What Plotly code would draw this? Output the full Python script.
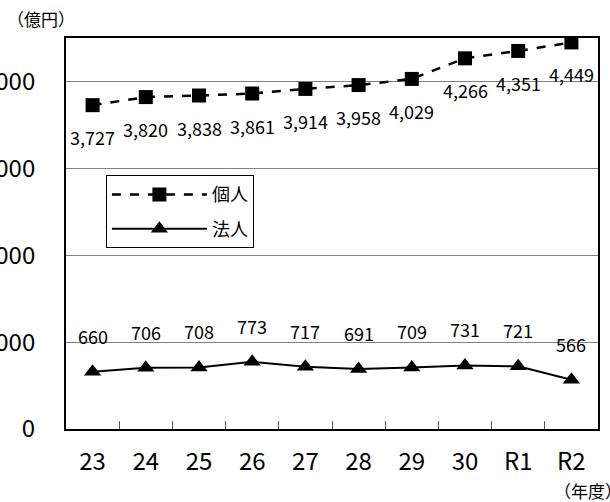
import plotly.graph_objects as go

years = ["23", "24", "25", "26", "27", "28", "29", "30", "R1", "R2"]
kojin = [3727, 3820, 3838, 3861, 3914, 3958, 4029, 4266, 4351, 4449]
hojin = [660, 706, 708, 773, 717, 691, 709, 731, 721, 566]
yticks = [0, 1000, 2000, 3000, 4000]

FONT = "Noto Sans CJK JP"

fig = go.Figure()
fig.add_trace(go.Scatter(
    x=years, y=kojin, name="個人", mode="lines+markers", legendgroup="a",
    line=dict(color="black", width=2.5, dash="dash"),
    marker=dict(symbol="square", size=14, color="black"),
))
fig.add_trace(go.Scatter(
    x=years, y=hojin, name="法人", mode="lines+markers", legendgroup="b",
    line=dict(color="black", width=2),
    marker=dict(symbol="triangle-up", size=15, color="black"),
))

annotations = []
for i, v in enumerate(kojin):
    annotations.append(dict(x=i, y=v, xref="x", yref="y", text=f"{v:,}",
                            showarrow=False, yshift=-32,
                            font=dict(size=18, color="black", family=FONT)))
for i, v in enumerate(hojin):
    annotations.append(dict(x=i, y=v, xref="x", yref="y", text=f"{v:,}",
                            showarrow=False, yshift=36,
                            font=dict(size=18, color="black", family=FONT)))
annotations.append(dict(x=-0.115, y=1.051, xref="paper", yref="paper",
                        text="（億円）", showarrow=False, xanchor="left", yanchor="middle",
                        font=dict(size=17, color="black", family=FONT)))
annotations.append(dict(x=0.913, y=-0.157, xref="paper", yref="paper",
                        text="（年度）", showarrow=False, xanchor="left", yanchor="middle",
                        font=dict(size=17, color="black", family=FONT)))

fig.update_layout(
    width=610, height=502,
    margin=dict(l=66, r=12, t=38, b=73, autoexpand=False),
    paper_bgcolor="white", plot_bgcolor="white",
    font=dict(family=FONT, color="black"),
    showlegend=True,
    legend=dict(x=0.075, y=0.649, xanchor="left", yanchor="top",
                bordercolor="black", borderwidth=1, bgcolor="white",
                font=dict(size=18, family=FONT), itemwidth=95,
                entrywidth=80, entrywidthmode="pixels",
                traceorder="grouped", tracegroupgap=8),
    annotations=annotations,
    xaxis=dict(
        type="category", range=[-0.5, 9.5], automargin=False,
        showgrid=False, showline=True, linecolor="black",
        linewidth=2, mirror=True, ticks="inside", tickson="boundaries",
        ticklen=8, tickcolor="#555555", tickwidth=1, tickangle=0,
        tickfont=dict(size=24, family=FONT), ticklabelstandoff=10,
    ),
    yaxis=dict(
        range=[0, 4500], tickvals=yticks, tickformat=",", automargin=False,
        showgrid=True, gridcolor="#808080", gridwidth=1,
        showline=True, linecolor="black", linewidth=2, mirror=True,
        ticks="", zeroline=False,
        tickfont=dict(size=24, family=FONT), ticklabelstandoff=24,
    ),
)

fig.write_html("out.html", config={"displayModeBar": False},
               post_script="document.body.style.margin='0px';")
